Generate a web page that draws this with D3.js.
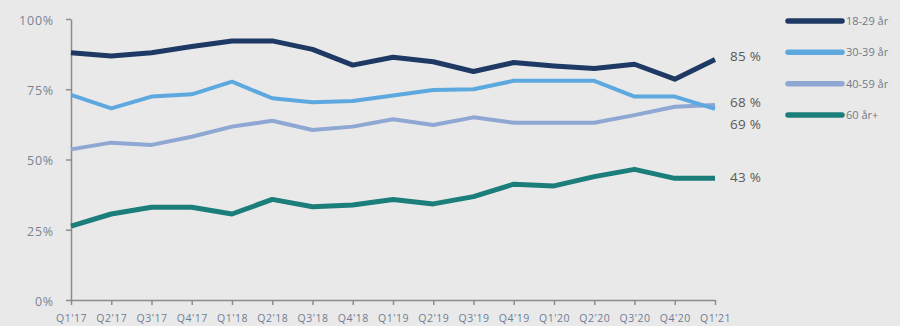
<!DOCTYPE html>
<html><head><meta charset="utf-8">
<script src="https://cdn.jsdelivr.net/npm/d3@7"></script>
<style>
html,body{margin:0;padding:0;background:#e9e9e9;}
svg{display:block;}
</style></head>
<body><svg id="c" width="900" height="326"></svg>
<script>
const categories = ["Q1'17","Q2'17","Q3'17","Q4'17","Q1'18","Q2'18","Q3'18","Q4'18","Q1'19","Q2'19","Q3'19","Q4'19","Q1'20","Q2'20","Q3'20","Q4'20","Q1'21"];
const seriesNames = ["18-29 år","30-39 år","40-59 år","60 år+"];
const s18_29 = [88.0,86.8,88.0,90.2,92.2,92.2,89.2,83.6,86.4,84.8,81.3,84.5,83.3,82.4,83.9,78.6,85.6];
const s30_39 = [73.0,68.2,72.4,73.2,77.7,71.8,70.4,70.8,72.8,74.7,75.0,78.0,78.0,78.0,72.4,72.4,68.0];
const s40_59 = [53.6,56.0,55.2,58.1,61.7,63.8,60.5,61.7,64.3,62.3,65.0,63.1,63.1,63.1,65.8,68.8,69.4];
const s60 = [26.3,30.6,33.0,33.0,30.6,35.8,33.2,33.8,35.8,34.2,36.8,41.2,40.6,43.9,46.5,43.3,43.3];
const endLabels = ["85 %","68 %","69 %","43 %"];
const endLabelAt = [86.8,70.5,62.5,43.5];
const yTicks = [0,25,50,75,100];
const colors = ["#1e3a64","#5da9df","#8ea7d3","#1b7e7a"];
const widths = [5,4,4,5];
const allSeries = [s18_29,s30_39,s40_59,s60];

const svg = d3.select("#c");
const x = d3.scalePoint().domain(categories).range([71,715]);
const y = d3.scaleLinear().domain([0,100]).range([300,19]);

// y axis
const ya = svg.append("g").attr("transform","translate(71,0)")
  .call(d3.axisLeft(y).tickValues(yTicks).tickFormat(d=>d+"%").tickSize(5).tickSizeOuter(0));
ya.select(".domain").attr("stroke","#8c8c8c").attr("stroke-width",1.5);
ya.selectAll(".tick line").attr("stroke","#8c8c8c").attr("stroke-width",1.5);
ya.selectAll(".tick text").attr("fill","#7a8492").attr("font-family","'Open Sans',sans-serif")
  .attr("font-size",12.5).attr("letter-spacing",0.8).attr("x",-17).attr("dy","0.42em");

// x axis
const xa = svg.append("g").attr("transform","translate(0,300)")
  .call(d3.axisBottom(x).tickSize(5).tickSizeOuter(0));
xa.select(".domain").attr("stroke","#8c8c8c").attr("stroke-width",1.5);
xa.selectAll(".tick line").attr("stroke","#8c8c8c").attr("stroke-width",1.5);
xa.selectAll(".tick text").attr("fill","#6f7d95").attr("font-family","'Open Sans',sans-serif")
  .attr("font-size",10.5).attr("letter-spacing",0.5).attr("y",15);

const line = d3.line().x((d,i)=>x(categories[i])).y(d=>y(d));

// draw in order: back to front
[3,2,1,0].forEach(k=>{
  svg.append("path").datum(allSeries[k]).attr("d",line)
    .attr("fill","none").attr("stroke",colors[k]).attr("stroke-width",widths[k])
    .attr("stroke-linejoin","round");
});

// end labels
endLabels.forEach((t,k)=>{
  svg.append("text").attr("x",730).attr("y",y(endLabelAt[k])).attr("dy","0.35em")
    .attr("fill","#5a5a5a").attr("font-family","'Open Sans',sans-serif").attr("font-size",13.5)
    .attr("letter-spacing",0.3)
    .text(t);
});

// legend
const ly = d3.scalePoint().domain(seriesNames).range([21,115]);
seriesNames.forEach((n,k)=>{
  svg.append("line").attr("x1",788).attr("x2",842).attr("y1",ly(n)).attr("y2",ly(n))
    .attr("stroke",colors[k]).attr("stroke-width",5.5).attr("stroke-linecap","round");
  svg.append("text").attr("x",846).attr("y",ly(n)).attr("dy","0.36em")
    .attr("fill","#737985").attr("font-family","'Open Sans',sans-serif").attr("font-size",11)
    .text(n);
});
</script></body></html>
